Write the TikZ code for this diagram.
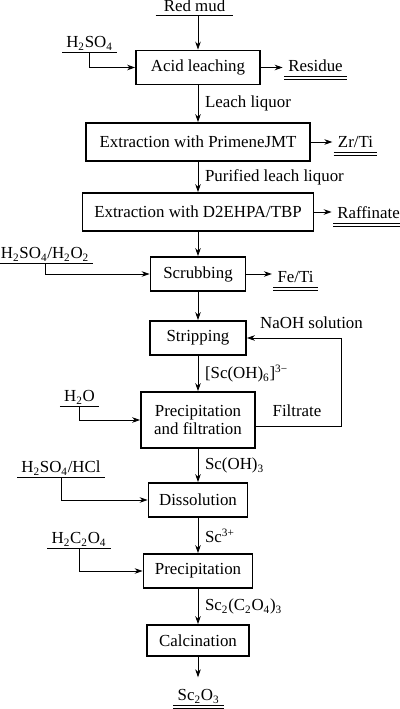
\documentclass[tikz,border=0pt]{standalone}
\usepackage{fontspec}
\setmainfont{Liberation Serif}
\usepackage{tikz}
\usetikzlibrary{arrows.meta,positioning}

\begin{document}
\begin{tikzpicture}[
  x=0.025cm, y=-0.025cm,
  font=\fontsize{12}{12.5}\selectfont,
  unit/.style={draw, line width=1.3pt, minimum height=0.85cm, align=center, inner sep=0pt},
  arr/.style={-{Stealth[length=2mm,width=1.4mm]}, line width=0.6pt},
  lbl/.style={right, xshift=0.05cm},
  feed/.style={inner xsep=0.1cm, inner ysep=0.1cm, text depth=0pt, anchor=south,
    append after command={(\tikzlastnode.south west) edge[line width=0.6pt] (\tikzlastnode.south east)}},
  prod/.style={inner xsep=0.1cm, inner ysep=0.1cm, text depth=0pt, anchor=south,
    append after command={(\tikzlastnode.south west) edge[line width=0.6pt] (\tikzlastnode.south east)
      ([yshift=-0.08cm]\tikzlastnode.south west) edge[line width=0.6pt] ([yshift=-0.08cm]\tikzlastnode.south east)}}
]
\useasboundingbox (0,0) rectangle (400,709);

% process units
\node[unit, minimum width=3.1cm] (leach) at (198,67.5) {Acid leaching};
\node[unit, minimum width=5.6cm, minimum height=0.95cm] (primene) at (198,142) {Extraction with PrimeneJMT};
\node[unit, minimum width=5.775cm, minimum height=0.95cm] (dehpa) at (198,212) {Extraction with D2EHPA/TBP};
\node[unit, minimum width=2.375cm] (scrub) at (198,274) {Scrubbing};
\node[unit, minimum width=2.4cm] (strip) at (198,338) {Stripping};
\node[unit, minimum width=2.85cm, minimum height=1.4cm] (precip) at (198,420) {Precipitation\\and filtration};
\node[unit, minimum width=2.475cm] (dissol) at (198,500) {Dissolution};
\node[unit, minimum width=2.725cm] (oxprec) at (198,571) {Precipitation};
\node[unit, minimum width=2.55cm, minimum height=0.775cm] (calcin) at (198,640.5) {Calcination};

% reagents
\node[feed, inner xsep=0.2cm] (redmud) at (194.5,15.7) {Red mud};
\node[feed] (hso) at (89.5,52) {H\textsubscript{2}SO\textsubscript{4}};
\node[feed] (peroxide) at (45,263) {H\textsubscript{2}SO\textsubscript{4}/H\textsubscript{2}O\textsubscript{2}};
\node[feed] (water) at (79.5,406) {H\textsubscript{2}O};
\node[feed] (acids) at (61,477) {H\textsubscript{2}SO\textsubscript{4}/HCl};
\node[feed] (oxalic) at (79,548) {H\textsubscript{2}C\textsubscript{2}O\textsubscript{4}};

% products
\node[prod] (residue) at (315.5,76) {Residue};
\node[prod] (zrti) at (355.5,152) {Zr/Ti};
\node[prod, anchor=south west] (raff) at (333,223) {Raffinate};
\node[prod] (feti) at (295.5,287) {Fe/Ti};
\node[prod] (scox) at (198.5,705) {Sc\textsubscript{2}O\textsubscript{3}};

\node (naoh) at (311.5,323) {NaOH solution};
\node (filtrate) at (297,411) {Filtrate};
\coordinate (turn) at (341,338);

% main line
\draw[arr] (redmud.south -| leach) -- (leach);
\draw[arr] (leach) -- node[lbl] {Leach liquor} (primene);
\draw[arr] (primene) -- node[lbl] {Purified leach liquor} (dehpa);
\draw[arr] (dehpa) -- (scrub);
\draw[arr] (scrub) -- (strip);
\draw[arr] (strip) -- node[lbl] {[Sc(OH)\textsubscript{6}]\textsuperscript{3−}} (precip);
\draw[arr] (precip) -- node[lbl] {Sc(OH)\textsubscript{3}} (dissol);
\draw[arr] (dissol) -- node[lbl] {Sc\textsuperscript{3+}} (oxprec);
\draw[arr] (oxprec) -- node[lbl] {Sc\textsubscript{2}(C\textsubscript{2}O\textsubscript{4})\textsubscript{3}} (calcin);
\draw[arr, shorten >=0.2cm] (calcin) -- (calcin.south |- scox.north);

% side streams
\draw[arr] (hso.south) |- (leach);
\draw[arr] (peroxide.south) |- (scrub);
\draw[arr] (water.south) |- (precip);
\draw[arr] (acids.south) |- (dissol);
\draw[arr] (oxalic.south) |- (oxprec);
\draw[arr, shorten >=1pt] (leach) -- (leach.east -| residue.west);
\draw[arr, shorten >=1pt] (primene) -- (primene.east -| zrti.west);
\draw[arr, shorten >=1pt] (dehpa) -- (dehpa.east -| raff.west);
\draw[arr, shorten >=1pt] (scrub) -- (scrub.east -| feti.west);
\draw[arr] ([yshift=-0.15cm]precip.east) -| (turn) -- (strip);

\end{tikzpicture}
\end{document}
